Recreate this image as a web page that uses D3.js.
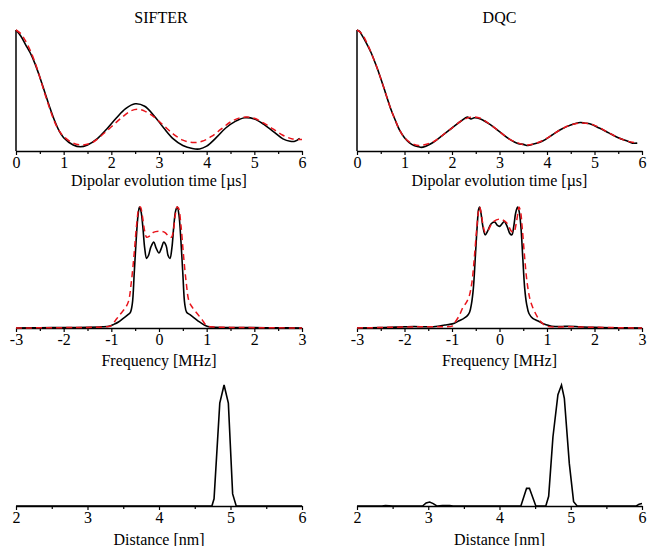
<!DOCTYPE html>
<html>
<head>
<script src="https://d3js.org/d3.v7.min.js"></script>
<style>
  body { margin: 0; background: #fff; }
</style>
</head>
<body>
<svg id="chart" width="648" height="546"></svg>
<script>
// ---- data (values normalised to the panel height) ----
const titles = ["SIFTER", "DQC"];
const xLabels = ["Dipolar evolution time [\u00b5s]", "Frequency [MHz]", "Distance [nm]"];
const serif = "'Liberation Serif', 'DejaVu Serif', serif";

// time domain, [t (us), signal]
const sifterTimeExp = [[0,1.00],[0.1,0.95],[0.2,0.88],[0.3,0.81],[0.4,0.72],[0.5,0.61],[0.6,0.49],[0.7,0.37],[0.8,0.26],[0.9,0.17],[1.0,0.11],[1.2,0.05],[1.35,0.035],[1.5,0.05],[1.7,0.10],[1.9,0.18],[2.1,0.27],[2.3,0.35],[2.5,0.39],[2.7,0.37],[2.9,0.29],[3.1,0.19],[3.3,0.10],[3.5,0.045],[3.7,0.02],[3.85,0.017],[4.0,0.04],[4.2,0.11],[4.4,0.19],[4.6,0.245],[4.8,0.275],[5.0,0.265],[5.2,0.22],[5.4,0.16],[5.6,0.10],[5.75,0.08],[5.85,0.08],[5.95,0.105]];
const sifterTimeFit = [[0,1.0],[0.1,0.97],[0.2,0.91],[0.3,0.83],[0.4,0.73],[0.5,0.61],[0.6,0.48],[0.7,0.36],[0.8,0.25],[0.9,0.17],[1.0,0.12],[1.2,0.065],[1.4,0.05],[1.6,0.07],[1.8,0.13],[2.0,0.20],[2.2,0.27],[2.4,0.33],[2.55,0.345],[2.7,0.33],[2.9,0.28],[3.1,0.21],[3.3,0.14],[3.5,0.09],[3.7,0.07],[3.9,0.08],[4.1,0.12],[4.3,0.18],[4.5,0.24],[4.7,0.275],[4.85,0.28],[5.0,0.27],[5.2,0.23],[5.4,0.18],[5.6,0.13],[5.8,0.10],[6.0,0.095]];
const dqcTimeExp = [[0,1.0],[0.05,0.99],[0.1,0.96],[0.2,0.89],[0.3,0.81],[0.4,0.71],[0.5,0.60],[0.6,0.48],[0.7,0.36],[0.8,0.26],[0.9,0.17],[1.0,0.11],[1.1,0.07],[1.2,0.045],[1.3,0.035],[1.35,0.03],[1.45,0.04],[1.6,0.07],[1.8,0.13],[2.0,0.19],[2.2,0.25],[2.32,0.28],[2.4,0.265],[2.47,0.275],[2.6,0.265],[2.8,0.22],[3.0,0.16],[3.2,0.10],[3.4,0.06],[3.5,0.055],[3.6,0.045],[3.7,0.055],[3.9,0.08],[4.1,0.13],[4.3,0.18],[4.5,0.215],[4.7,0.235],[4.8,0.23],[4.9,0.225],[5.1,0.19],[5.3,0.15],[5.5,0.11],[5.7,0.08],[5.8,0.065],[5.9,0.065]];
const dqcTimeFit = [[0,1.0],[0.1,0.97],[0.2,0.90],[0.3,0.81],[0.4,0.71],[0.5,0.60],[0.6,0.48],[0.7,0.36],[0.8,0.26],[0.9,0.17],[1.0,0.11],[1.1,0.075],[1.2,0.055],[1.3,0.045],[1.4,0.05],[1.6,0.075],[1.8,0.13],[2.0,0.19],[2.2,0.25],[2.4,0.28],[2.6,0.27],[2.8,0.22],[3.0,0.16],[3.2,0.10],[3.4,0.065],[3.55,0.05],[3.7,0.055],[3.9,0.085],[4.1,0.13],[4.3,0.18],[4.5,0.215],[4.7,0.23],[4.9,0.225],[5.1,0.195],[5.3,0.15],[5.5,0.11],[5.7,0.08],[5.9,0.068]];

// frequency domain, [f (MHz), amplitude]
const sifterFreqExp = [[-3,0],[-2.5,0.002],[-2,0.004],[-1.5,0.006],[-1.2,0.01],[-1.05,0.015],[-0.95,0.03],[-0.85,0.05],[-0.75,0.08],[-0.65,0.11],[-0.6,0.13],[-0.56,0.2],[-0.52,0.45],[-0.48,0.72],[-0.44,0.93],[-0.41,1.0],[-0.38,0.97],[-0.34,0.84],[-0.3,0.66],[-0.26,0.575],[-0.22,0.6],[-0.17,0.67],[-0.11,0.71],[-0.06,0.66],[0,0.62],[0.05,0.66],[0.1,0.71],[0.15,0.68],[0.19,0.6],[0.23,0.575],[0.27,0.66],[0.31,0.84],[0.35,0.97],[0.385,1.0],[0.42,0.93],[0.46,0.72],[0.5,0.45],[0.54,0.2],[0.58,0.13],[0.65,0.11],[0.75,0.08],[0.85,0.05],[0.95,0.025],[1.05,0.01],[1.5,0.004],[2,0.003],[2.5,0.002],[3,0]];
const sifterFreqFit = [[-3,0],[-2,0.003],[-1.5,0.005],[-1.1,0.01],[-1.0,0.02],[-0.9,0.07],[-0.8,0.12],[-0.7,0.17],[-0.64,0.22],[-0.58,0.38],[-0.52,0.62],[-0.47,0.85],[-0.42,0.99],[-0.39,1.0],[-0.35,0.93],[-0.3,0.8],[-0.26,0.75],[-0.2,0.76],[-0.12,0.79],[0,0.80],[0.12,0.79],[0.2,0.76],[0.26,0.75],[0.3,0.8],[0.34,0.93],[0.38,1.0],[0.41,0.99],[0.46,0.85],[0.51,0.62],[0.57,0.38],[0.63,0.22],[0.7,0.17],[0.8,0.12],[0.9,0.07],[1.0,0.02],[1.1,0.01],[1.5,0.005],[2,0.003],[3,0]];
const dqcFreqExp = [[-3,0],[-2.5,0.003],[-2.0,0.01],[-1.8,0.012],[-1.5,0.01],[-1.3,0.015],[-1.15,0.025],[-1.05,0.03],[-0.95,0.04],[-0.85,0.06],[-0.75,0.08],[-0.68,0.10],[-0.63,0.13],[-0.59,0.2],[-0.55,0.33],[-0.51,0.58],[-0.47,0.84],[-0.44,0.98],[-0.42,1.0],[-0.39,0.95],[-0.35,0.84],[-0.3,0.77],[-0.25,0.8],[-0.18,0.86],[-0.1,0.875],[-0.05,0.85],[0,0.84],[0.05,0.86],[0.1,0.88],[0.16,0.84],[0.22,0.78],[0.26,0.77],[0.3,0.84],[0.34,0.95],[0.38,1.0],[0.41,0.97],[0.45,0.84],[0.49,0.58],[0.53,0.33],[0.57,0.2],[0.62,0.12],[0.7,0.08],[0.8,0.06],[0.9,0.04],[1.0,0.025],[1.1,0.015],[1.3,0.012],[1.45,0.015],[1.7,0.01],[2.0,0.005],[2.5,0.002],[3,0]];
const dqcFreqFit = [[-3,0],[-2,0.008],[-1.5,0.01],[-1.2,0.01],[-1.0,0.015],[-0.95,0.04],[-0.85,0.10],[-0.77,0.17],[-0.7,0.21],[-0.64,0.26],[-0.58,0.38],[-0.53,0.58],[-0.48,0.82],[-0.44,0.97],[-0.42,1.0],[-0.39,0.96],[-0.35,0.86],[-0.3,0.79],[-0.25,0.8],[-0.15,0.87],[0,0.9],[0.15,0.87],[0.25,0.8],[0.3,0.79],[0.35,0.86],[0.39,0.96],[0.41,1.0],[0.44,0.97],[0.48,0.82],[0.53,0.58],[0.58,0.38],[0.64,0.24],[0.7,0.17],[0.8,0.09],[0.9,0.04],[1.0,0.015],[1.5,0.01],[2,0.006],[3,0]];

// distance distributions, [r (nm), P(r)]
const sifterDist = [[2,0],[4.74,0],[4.77,0.06],[4.85,0.85],[4.91,1.0],[4.97,0.85],[5.03,0.10],[5.08,0],[6,0]];
const dqcDist = [[2,0],[2.35,0],[2.4,0.003],[2.5,0],[2.92,0],[2.97,0.025],[3.02,0.033],[3.07,0.02],[3.12,0],[3.2,0.003],[3.3,0.003],[3.35,0],[4.3,0],[4.38,0.146],[4.42,0.146],[4.51,0],[4.65,0],[4.69,0.08],[4.75,0.57],[4.82,0.92],[4.87,1.0],[4.91,0.89],[4.98,0.35],[5.04,0.036],[5.09,0],[5.92,0],[5.96,0.015],[6,0.02]];

const timeTicks = [0,1,2,3,4,5,6];
const freqTicks = [-3,-2,-1,0,1,2,3];
const distTicks = [2,3,4,5,6];

// ---- layout ----
const svg = d3.select("#chart");
const cols = [[16, 302], [357, 642]];
const rows = [[30, 151], [207, 328], [385, 506]];
const labelY = [186, 366, 545];

const rowsSpec = [
  {domain: [0, 6], ticks: timeTicks, yAxis: true, curve: d3.curveCatmullRom,
   series: [[sifterTimeExp, sifterTimeFit], [dqcTimeExp, dqcTimeFit]]},
  {domain: [-3, 3], ticks: freqTicks, yAxis: false, curve: d3.curveCatmullRom,
   series: [[sifterFreqExp, sifterFreqFit], [dqcFreqExp, dqcFreqFit]]},
  {domain: [2, 6], ticks: distTicks, yAxis: false, curve: d3.curveLinear,
   series: [[sifterDist], [dqcDist]]}
];

rowsSpec.forEach((spec, r) => {
  cols.forEach((c, k) => {
    const x = d3.scaleLinear().domain(spec.domain).range(c);
    const y = d3.scaleLinear().domain([0, 1]).range([rows[r][1], rows[r][0]]);
    const g = svg.append("g");

    // minor ticks at half steps
    const minor = d3.range(spec.domain[0] + 0.5, spec.domain[1], 1);
    g.append("g")
      .attr("transform", `translate(0,${rows[r][1]})`)
      .call(d3.axisBottom(x).tickValues(minor).tickSize(3).tickFormat(""))
      .call(a => a.select(".domain").remove())
      .selectAll("line").attr("stroke-width", 1.2);

    const ax = g.append("g")
      .attr("transform", `translate(0,${rows[r][1]})`)
      .call(d3.axisBottom(x).tickValues(spec.ticks).tickSize(4).tickSizeOuter(0)
        .tickPadding(2).tickFormat(d => String(d)));
    ax.select(".domain").attr("stroke-width", 1.5);
    ax.selectAll("line").attr("stroke-width", 1.2);
    ax.selectAll("text")
      .style("font-family", serif)
      .style("font-size", "16px")
      .attr("fill", "#000");

    if (spec.yAxis) {
      g.append("line")
        .attr("x1", x(0)).attr("x2", x(0))
        .attr("y1", y(0)).attr("y2", y(1))
        .attr("stroke", "#000").attr("stroke-width", 1.5);
    }

    const line = d3.line().x(d => x(d[0])).y(d => y(d[1])).curve(spec.curve);
    const s = spec.series[k];
    g.append("path").datum(s[0])
      .attr("d", line).attr("fill", "none")
      .attr("stroke", "#000").attr("stroke-width", 1.6);
    if (s[1]) {
      g.append("path").datum(s[1])
        .attr("d", line).attr("fill", "none")
        .attr("stroke", "#e8141b").attr("stroke-width", 1.5)
        .attr("stroke-dasharray", "6,4");
    }

    g.append("text")
      .attr("x", (c[0] + c[1]) / 2).attr("y", labelY[r])
      .attr("text-anchor", "middle")
      .style("font-family", serif).style("font-size", "16px")
      .text(xLabels[r]);

    if (r === 0) {
      g.append("text")
        .attr("x", (c[0] + c[1]) / 2 + (k === 0 ? 2 : 0)).attr("y", 23)
        .attr("text-anchor", "middle")
        .style("font-family", serif).style("font-size", "16px")
        .text(titles[k]);
    }
  });
});
</script>
</body>
</html>
